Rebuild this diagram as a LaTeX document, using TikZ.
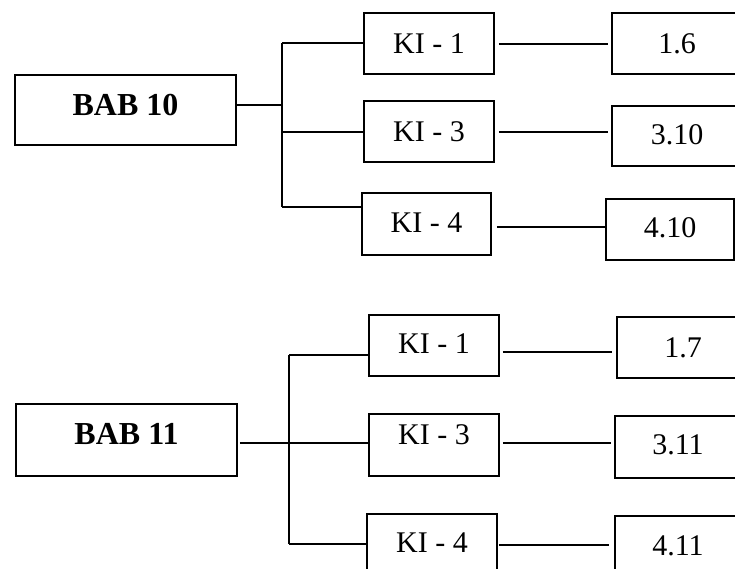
\documentclass[tikz,border=0pt]{standalone}
\usepackage{fontspec}
\setmainfont{Liberation Serif}
\begin{document}
\begin{tikzpicture}[x=1pt,y=-1pt,
  box/.style={draw, line width=1.8pt, inner sep=0pt, anchor=center,
    font=\fontsize{30}{36}\selectfont},
  babbox/.style={box, font=\fontsize{32}{38}\selectfont\bfseries,
    minimum width=221pt},
  kibox/.style={box, minimum width=130pt, minimum height=61pt},
  numbox/.style={box, minimum width=130pt, minimum height=61pt},
  link/.style={line width=1.5pt}]
\useasboundingbox (0,0) rectangle (735,569);

% ---------- top group ----------
\node[babbox, minimum height=70pt, text depth=10pt] (b10) at (125.5,110) {BAB 10};
\node[kibox] (k1) at (429,43.5) {KI - 1};
\node[kibox] (k3) at (429,131.5) {KI - 3};
\node[kibox, minimum width=129pt, minimum height=62pt, text depth=2pt] (k4) at (426.5,224) {KI - 4};
\node[numbox] (n1) at (677,43.5) {1.6};
\node[numbox, minimum height=60pt, text depth=2pt] (n3) at (677,136) {3.10};
\node[numbox, minimum width=128pt, text depth=3pt] (n4) at (670,229.5) {4.10};

\coordinate (j1) at (282,105);
\coordinate (a1) at (282,43);
\coordinate (a2) at (282,132);
\coordinate (a3) at (282,207);
\coordinate (r1) at (500,44);
\coordinate (r2) at (500,132);
\coordinate (r3) at (500,227);

\draw[link] (b10.east |- j1) -- (j1);
\draw[link] (a1) -- (a3);
\draw[link] (a1) -- (a1 -| k1.west);
\draw[link] (a2) -- (a2 -| k3.west);
\draw[link] (a3) -- (a3 -| k4.west);
\draw[link, shorten <=4pt, shorten >=3pt] (k1.east |- r1) -- (n1.west |- r1);
\draw[link, shorten <=4pt, shorten >=3pt] (k3.east |- r2) -- (n3.west |- r2);
\draw[link, shorten <=5pt, shorten >=0pt] (k4.east |- r3) -- (n4.west |- r3);

% ---------- bottom group ----------
\node[babbox, minimum height=72pt, text depth=12pt] (b11) at (126.5,440) {BAB 11};
\node[kibox, text depth=3pt] (m1) at (434,345.5) {KI - 1};
\node[kibox, minimum height=62pt, text depth=20pt] (m3) at (434,445) {KI - 3};
\node[kibox, minimum height=62pt, text depth=4pt] (m4) at (432,545) {KI - 4};
\node[numbox, minimum width=132pt] (p1) at (683,347.5) {1.7};
\node[numbox, minimum width=126pt, minimum height=62pt, text depth=5pt] (p3) at (678,447) {3.11};
\node[numbox, minimum width=126pt, minimum height=62pt, text depth=3pt] (p4) at (678,547) {4.11};

\coordinate (j2) at (289,443);
\coordinate (c1) at (289,355);
\coordinate (c2) at (289,443);
\coordinate (c3) at (289,544);
\coordinate (q1) at (500,352);
\coordinate (q2) at (500,443);
\coordinate (q3) at (500,545);

\draw[link, shorten <=2pt] (b11.east |- j2) -- (j2);
\draw[link] (c1) -- (c3);
\draw[link] (c1) -- (c1 -| m1.west);
\draw[link] (c2) -- (c2 -| m3.west);
\draw[link] (c3) -- (c3 -| m4.west);
\draw[link, shorten <=3pt, shorten >=4pt] (m1.east |- q1) -- (p1.west |- q1);
\draw[link, shorten <=3pt, shorten >=3pt] (m3.east |- q2) -- (p3.west |- q2);
\draw[link, shorten <=1pt, shorten >=5pt] (m4.east |- q3) -- (p4.west |- q3);
\end{tikzpicture}
\end{document}
